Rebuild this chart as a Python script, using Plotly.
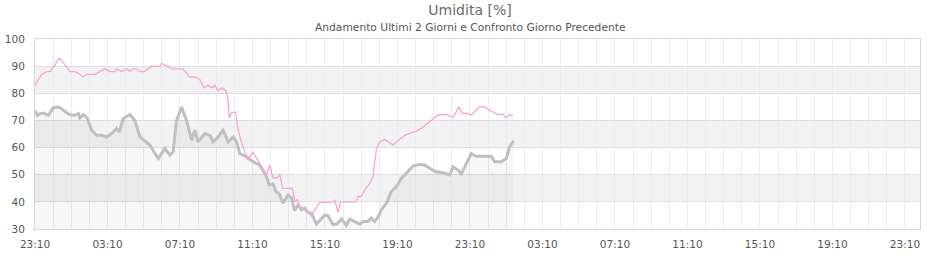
import plotly.graph_objects as go

# hours since 23:10 of day 1
gray_h = [0, 0.13, 0.28, 0.46, 0.73, 1.01, 1.28, 1.47, 1.65, 1.93, 2.21, 2.39, 2.48, 2.66, 2.85,
          3.13, 3.40, 3.68, 3.95, 4.23, 4.50, 4.65, 4.87, 5.24, 5.51, 5.79, 6.34, 6.80, 7.17, 7.44,
          7.62, 7.81, 8.09, 8.36, 8.64, 8.82, 9.00, 9.37, 9.65, 9.83, 10.10, 10.38, 10.66, 10.93,
          11.12, 11.30, 11.67, 12.03, 12.40, 12.77, 12.92, 13.14, 13.29, 13.47, 13.69, 13.96, 14.15,
          14.33, 14.52, 14.70, 14.88, 15.07, 15.25, 15.53, 15.99, 16.17, 16.44, 16.66, 16.91, 17.18,
          17.36, 17.64, 17.92, 18.10, 18.37, 18.56, 18.74, 18.93, 19.11, 19.39, 19.66, 19.94, 20.22,
          20.49, 20.85, 21.22, 21.50, 21.87, 22.14, 22.51, 22.88, 23.06, 23.34, 23.52, 23.70, 24.07,
          24.35, 25.18, 25.36, 25.73, 26.00, 26.19, 26.41]
gray_v = [73.7, 71.8, 72.5, 72.7, 71.9, 74.7, 74.9, 74.3, 73.3, 72.1, 71.9, 72.5, 70.9, 72.1, 71.2,
          66.4, 64.5, 64.5, 63.9, 65.2, 67.0, 65.7, 70.7, 72.2, 70.0, 63.9, 60.9, 56.0, 59.7, 57.2,
          58.4, 70.0, 74.9, 70.0, 62.7, 66.4, 62.1, 65.2, 64.5, 62.1, 63.9, 66.4, 62.1, 63.9,
          62.1, 57.8, 56.6, 54.8, 53.5, 49.3, 46.2, 46.6, 43.8, 43.0, 39.5, 42.6, 41.4,
          36.8, 38.9, 37.1, 37.7, 36.1, 35.9, 31.8, 35.2, 34.9, 31.6, 31.8, 33.7, 31.3,
          33.7, 32.8, 31.8, 32.8, 32.8, 34.0, 32.8, 34.4, 37.1, 39.5, 43.8, 45.6, 48.7,
          50.5, 53.2, 53.8, 53.6, 52.0, 51.1, 50.7, 49.9, 52.9, 51.7, 50.3, 52.9, 57.8,
          56.8, 56.8, 54.8, 54.8, 56.0, 60.3, 62.5]

pink_h = [0, 0.17, 0.37, 0.66, 0.83, 1.10, 1.34, 1.54, 1.71, 1.93, 2.21, 2.48, 2.65, 2.87, 3.31,
          3.58, 3.86, 4.13, 4.41, 4.52, 4.80, 5.07, 5.24, 5.40, 5.62, 5.79, 6.06, 6.23, 6.45, 6.89,
          7.00, 7.28, 7.55, 8.16, 8.54, 8.82, 9.10, 9.32, 9.54, 9.76, 9.92, 10.09, 10.31, 10.53,
          10.64, 10.72, 10.86, 11.08, 11.21, 11.39, 11.74, 12.02, 12.40, 12.77, 12.95, 13.14, 13.40,
          13.51, 13.67, 14.21, 14.33, 14.48, 14.61, 14.77, 14.88, 15.05, 15.25, 15.44, 15.71, 16.44,
          16.54, 16.72, 16.85, 17.70, 17.82, 18.01, 18.19, 18.47, 18.65, 18.84, 19.02, 19.29, 19.75,
          20.12, 20.40, 20.85, 21.04, 21.41, 21.87, 22.23, 22.70, 23.06, 23.39, 23.58, 23.80, 24.07,
          24.53, 24.81, 25.08, 25.54, 25.82, 26.00, 26.19, 26.37]
pink_v = [83, 85, 87, 88, 88, 90.5, 93, 91.5, 90, 88, 88, 87, 86, 87, 87,
          88, 89, 88, 88, 89, 88, 89, 88, 89, 89, 88, 88, 89, 90, 90,
          91, 90, 89, 89, 86, 86, 85, 82, 83, 82, 83, 81, 82, 81,
          78, 71, 73, 73, 66.4, 62, 55.4, 58.4, 54.2, 50, 53.5, 48.7, 49,
          50, 45, 45, 40, 41, 37.7, 38, 37, 36, 35, 37, 39.7, 40,
          40.7, 36, 40, 40, 42, 42, 44.4, 46.8, 49.3, 59.7, 62, 63, 61,
          63, 64.5, 65.7, 66, 67.6, 70, 72, 72.2, 71, 75, 72.5, 72.7, 72,
          75, 75, 73.7, 72.2, 72.2, 71, 72, 72]

tick_hours = [0, 4, 8, 12, 16, 20, 24, 28, 32, 36, 40, 44, 48]
tick_labels = ["23:10", "03:10", "07:10", "11:10", "15:10", "19:10", "23:10",
               "03:10", "07:10", "11:10", "15:10", "19:10", "23:10"]
bands = [(80, 90), (60, 70), (40, 50)]

fig = go.Figure()
fig.add_trace(go.Scatter(x=gray_h, y=gray_v, mode="lines", fill="tozeroy",
                         fillcolor="rgba(0,0,0,0.03)",
                         line=dict(color="#c0c0c0", width=3), hoverinfo="skip"))
fig.add_trace(go.Scatter(x=pink_h, y=pink_v, mode="lines",
                         line=dict(color="#f5a6cd", width=1.3), hoverinfo="skip"))

for lo, hi in bands:
    fig.add_shape(type="rect", xref="paper", yref="y", x0=0, x1=1, y0=lo, y1=hi,
                  fillcolor="#f2f2f2", line_width=0, layer="below")

fig.update_layout(
    width=940, height=260,
    margin=dict(l=35, r=20, t=39, b=31, autoexpand=False),
    paper_bgcolor="white", plot_bgcolor="white",
    showlegend=False,
    font=dict(family="DejaVu Sans", size=10, color="#555555"),
    title=dict(text="Umidita [%]", x=0.5, xref="container", xanchor="center",
               y=0.96, yref="container", yanchor="middle",
               font=dict(size=14, color="#6a6a6a")),
    annotations=[dict(text="Andamento Ultimi 2 Giorni e Confronto Giorno Precedente",
                      xref="paper", yref="paper", x=(470 - 35) / 885, y=1.0, yshift=12,
                      xanchor="center", yanchor="middle", showarrow=False,
                      font=dict(size=10.7, color="#555555"))],
)
fig.update_xaxes(range=[0, 48.83], tickmode="array", tickvals=tick_hours, ticktext=tick_labels,
                 showgrid=True, gridcolor="#ebeafb", gridwidth=1,
                 minor=dict(dtick=1, tick0=0, showgrid=True, gridcolor="#ebeafb", gridwidth=1),
                 showline=True, linecolor="#d6d6d6", linewidth=1, mirror=True,
                 zeroline=False, ticks="", ticklabelstandoff=5, automargin=False,
                 tickfont=dict(size=10.5, color="#555555"))
fig.update_yaxes(range=[30, 100], tickmode="linear", tick0=30, dtick=10,
                 showgrid=True, gridcolor="#dedede", gridwidth=1,
                 showline=True, linecolor="#d6d6d6", linewidth=1, mirror=True,
                 zeroline=False, ticks="", ticklabelstandoff=7, automargin=False,
                 tickfont=dict(size=10.5, color="#555555"))

fig.write_html("out.html")
